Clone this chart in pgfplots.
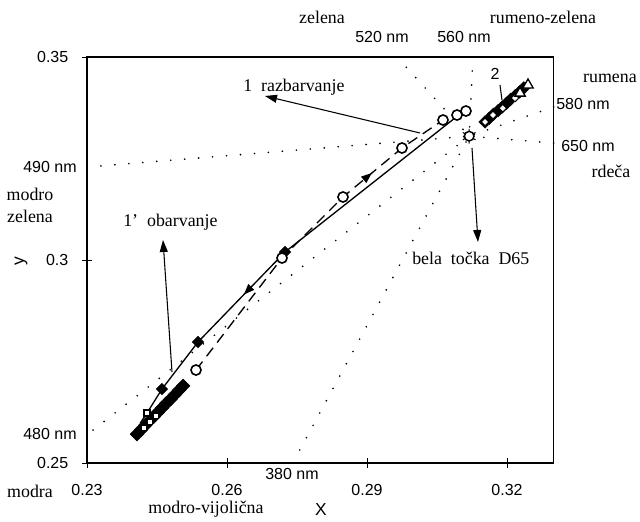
\documentclass[border=0pt]{standalone}
\usepackage{fontspec}
\setmainfont{Liberation Serif}
\newfontfamily\sans{Liberation Sans}
\usepackage{pgfplots}
\pgfplotsset{compat=1.18}
\usetikzlibrary{arrows.meta,decorations.markings}
\newcommand\sr{\fontsize{13.4}{16}\selectfont}
\newcommand\sna{\sans\fontsize{12}{14}\selectfont}

\pgfplotstableread{
x y
0.2407 0.2571
0.2416 0.2582
0.2425 0.2593
0.2434 0.2604
0.2443 0.2614
0.2452 0.2625
0.2461 0.2636
0.2470 0.2647
0.2479 0.2657
0.2488 0.2668
0.2497 0.2679
0.2506 0.2690
}\lowband
\pgfplotstableread{
x y
0.3153 0.3340
0.3162 0.3349
0.3171 0.3359
0.3181 0.3368
0.3190 0.3377
0.3199 0.3386
0.3208 0.3396
0.3218 0.3405
0.3227 0.3414
0.3236 0.3424
}\highband
\pgfplotstableread{
x y
0.25336 0.27290
0.27179 0.30049
0.28486 0.31552
0.29750 0.32759
0.30629 0.33448
0.30929 0.33571
0.31121 0.33670
}\razb
\pgfplotstableread{
x y
0.30993 0.33596
0.27243 0.30197
0.25379 0.27980
0.24607 0.26822
0.24286 0.26231
0.24140 0.25980
}\obarv

\begin{document}
\begin{tikzpicture}
\useasboundingbox (-65.25pt,-44.25pt) rectangle (414.75pt,347.25pt);
\begin{axis}[
  at={(0,0)}, anchor=south west,
  scale only axis, width=350pt, height=304.5pt,
  xmin=0.23, xmax=0.33, ymin=0.25, ymax=0.35,
  xtick={0.23,0.26,0.29,0.32}, xticklabels={0.23,0.26,0.29,0.32},
  ytick={0.25,0.3,0.35}, yticklabels={0.25,0.3,0.35},
  tick pos=left, tick align=center, major tick length=7pt,
  tick style={black, line width=0.6pt},
  axis line style={line width=0.9pt},
  xticklabel style={font=\sna, anchor=center, yshift=-16.5pt},
  yticklabel style={font=\sna, anchor=east, xshift=-7pt},
  xlabel={X}, ylabel={y},
  xlabel style={font=\sans\fontsize{13}{15}\selectfont, at={(axis description cs:0.5014,-0.1158)}, anchor=center},
  ylabel style={font=\sans\fontsize{13}{15}\selectfont, at={(axis description cs:-0.1414,0.4975)}, anchor=center},
  clip=false,
  refline/.style={black, line width=1.4pt, line cap=round, dash pattern=on 0pt off 10.5pt, forget plot},
  dia/.style={only marks, mark=square*, mark options={rotate=45}},
]
% reference lines (dotted) through the white point
\addplot[refline] coordinates {(0.2300,0.3229) (0.3119,0.3305)};
\addplot[refline] coordinates {(0.2313,0.2581) (0.3119,0.3305)};
\addplot[refline] coordinates {(0.2756,0.2532) (0.3119,0.3305)};
\addplot[refline] coordinates {(0.2964,0.3500) (0.3119,0.3305)};
\addplot[refline] coordinates {(0.3127,0.3500) (0.3119,0.3305)};
\addplot[refline] coordinates {(0.3300,0.3377) (0.3119,0.3305)};
\addplot[refline] coordinates {(0.3300,0.3288) (0.3119,0.3305)};

% obarvanje (solid line, arrow down-left)
\addplot[black, line width=1pt, postaction={decorate},
  decoration={markings, mark=at position 0.63 with {\arrow{Triangle[length=8pt,width=6pt]}}}] table {\obarv};
% razbarvanje (dashed line, arrow up-right)
\addplot[black, line width=1pt, dash pattern=on 8pt off 5pt, postaction={decorate},
  decoration={markings, mark=at position 0.70 with {\arrow{Triangle[length=8pt,width=6pt]}}}] table {\razb};

% bands of points
\addplot[dia, mark size=3.6pt, black] table {\lowband};
\addplot[dia, mark size=3.3pt, black] table {\highband};
\addplot[only marks, mark=square*, mark size=1pt, white] coordinates {(0.2422,0.2586) (0.2435,0.2601) (0.2448,0.2616)};
\addplot[only marks, mark=square*, mark size=1.3pt, mark options={rotate=45, fill=white, draw=white}] coordinates {(0.3153,0.3340) (0.3170,0.3357) (0.3191,0.3374) (0.3217,0.3399)};
\addplot[only marks, mark=triangle*, mark size=4.5pt, mark options={fill=white, draw=black, line width=1pt}] coordinates {(0.3228,0.3411) (0.3245,0.3431)};

% filled diamonds of 1'
\addplot[dia, mark size=3pt, black] coordinates {(0.24607,0.26822) (0.25379,0.27980) (0.27243,0.30197)};
\addplot[only marks, mark=square*, mark size=2.2pt, mark options={fill=white, draw=black, line width=1pt}] coordinates {(0.24286,0.26231)};
% circles of 1
\addplot[only marks, mark=*, mark size=3.8pt, mark options={fill=white, draw=black, line width=1.2pt}] table {\razb};

% white point D65
\addplot[only marks, mark=asterisk, mark size=5.5pt, mark options={line width=0.8pt}, black] coordinates {(0.3119,0.3305)};
\addplot[only marks, mark=*, mark size=3.6pt, mark options={fill=white, draw=black, line width=1.1pt}] coordinates {(0.3119,0.3305)};
\end{axis}

\begin{scope}[x=0.75pt, y=-0.75pt, shift={(-65.25pt,347.25pt)}]
  % annotation arrows
  \draw[line width=0.8pt, -{Triangle[length=9pt,width=6pt]}] (420,133) -- (265,96);
  \draw[line width=0.8pt, -{Triangle[length=9pt,width=6pt]}] (172,372) -- (163,240);
  \draw[line width=0.8pt, -{Triangle[length=9pt,width=6pt]}] (472,148) -- (478,242);
  \draw[line width=0.8pt] (500,85) -- (502,100);
  % serif labels
  \node[font=\sr] at (322,17) {zelena};
  \node[font=\sr] at (543,17) {rumeno-zelena};
  \node[font=\sr] at (610,78) {rumena};
  \node[font=\sr] at (611,171) {rde\v{c}a};
  \node[font=\sr] at (30,194) {modro};
  \node[font=\sr] at (30,216) {zelena};
  \node[font=\sr] at (30,491) {modra};
  \node[font=\sr] at (206,509) {modro-vijoli\v{c}na};
  \node[font=\sr, anchor=west, inner sep=0pt] at (243,87) {1\enspace razbarvanje};
  \node[font=\sr, anchor=west, inner sep=0pt] at (123,222) {1'\enspace obarvanje};
  \node[font=\sr, anchor=west, inner sep=0pt] at (412,258) {bela\enspace to\v{c}ka\enspace D65};
  % sans labels
  \node[font=\sna] at (382,37) {520 nm};
  \node[font=\sna] at (464,37) {560 nm};
  \node[font=\sna] at (583,104) {580 nm};
  \node[font=\sna] at (588,146) {650 nm};
  \node[font=\sna] at (50,167) {490 nm};
  \node[font=\sna] at (50,434) {480 nm};
  \node[font=\sna] at (292,474) {380 nm};
  \node[font=\sna] at (495,74) {2};
\end{scope}
\end{tikzpicture}
\end{document}
